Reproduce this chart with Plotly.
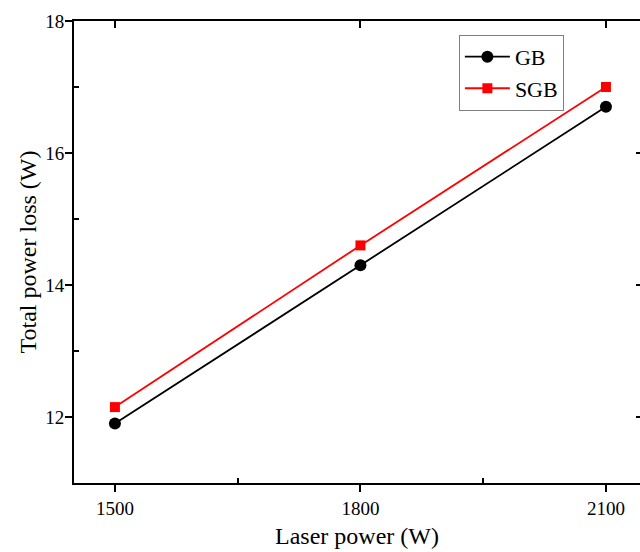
import plotly.graph_objects as go

laser_power = [1500, 1800, 2100]
gb_loss = [11.9, 14.3, 16.7]
sgb_loss = [12.15, 14.6, 17.0]
x_ticks = [1500, 1800, 2100]
y_ticks = [12, 14, 16, 18]

FONT = "Liberation Serif, Times New Roman, serif"
XR = [1450, 2141.6]
YR = [11, 18]

fig = go.Figure()
fig.add_trace(go.Scatter(x=laser_power, y=gb_loss, name="GB", mode="lines+markers",
                         line=dict(color="black", width=1.8),
                         marker=dict(symbol="circle", size=12, color="black")))
fig.add_trace(go.Scatter(x=laser_power, y=sgb_loss, name="SGB", mode="lines+markers",
                         line=dict(color="#ff0000", width=1.8),
                         marker=dict(symbol="square", size=10, color="#ff0000")))

fig.update_layout(
    width=640, height=552,
    margin=dict(l=74, r=0, t=21, b=69),
    plot_bgcolor="white", paper_bgcolor="white",
    font=dict(family=FONT, size=19, color="black"),
    showlegend=True,
    legend=dict(x=0.68, y=0.97, xanchor="left", yanchor="top",
                bordercolor="#808080", borderwidth=1, bgcolor="rgba(255,255,255,0)",
                font=dict(family=FONT, size=22), tracegroupgap=0, itemwidth=45),
    xaxis=dict(range=XR, tickvals=x_ticks, ticks="outside", ticklen=7, tickwidth=1.5,
               tickcolor="black", showline=True, linecolor="black", linewidth=2,
               showgrid=False, zeroline=False,
               tickfont=dict(family=FONT, size=19),
               minor=dict(tickvals=[1650, 1950], ticks="inside", ticklen=5,
                          tickwidth=1.5, tickcolor="black", showgrid=False),
               title=dict(text="Laser power (W)", font=dict(family=FONT, size=24),
                          standoff=9)),
    yaxis=dict(range=YR, tickvals=y_ticks, ticks="outside", ticklen=7, tickwidth=1.5,
               tickcolor="black", showline=True, linecolor="black", linewidth=2,
               showgrid=False, zeroline=False, ticklabelstandoff=-3,
               tickfont=dict(family=FONT, size=19),
               minor=dict(tickvals=[13, 15, 17], ticks="inside", ticklen=5,
                          tickwidth=1.5, tickcolor="black", showgrid=False),
               title=dict(text="Total power loss (W)", font=dict(family=FONT, size=24),
                          standoff=2)),
    xaxis2=dict(range=XR, overlaying="x", side="top", anchor="y", tickvals=x_ticks,
                ticks="inside", ticklen=7, tickwidth=1.5, tickcolor="black",
                showticklabels=False, showline=True, linecolor="black", linewidth=2,
                showgrid=False, zeroline=False),
    yaxis2=dict(range=YR, overlaying="y", side="right", anchor="x", tickvals=y_ticks,
                ticks="inside", ticklen=4, tickwidth=1.5, tickcolor="black",
                showticklabels=False, showline=False,
                showgrid=False, zeroline=False),
)
fig.add_trace(go.Scatter(x=[None], y=[None], xaxis="x2", yaxis="y2", showlegend=False,
                         hoverinfo="skip"))

fig.write_html("out.html")
